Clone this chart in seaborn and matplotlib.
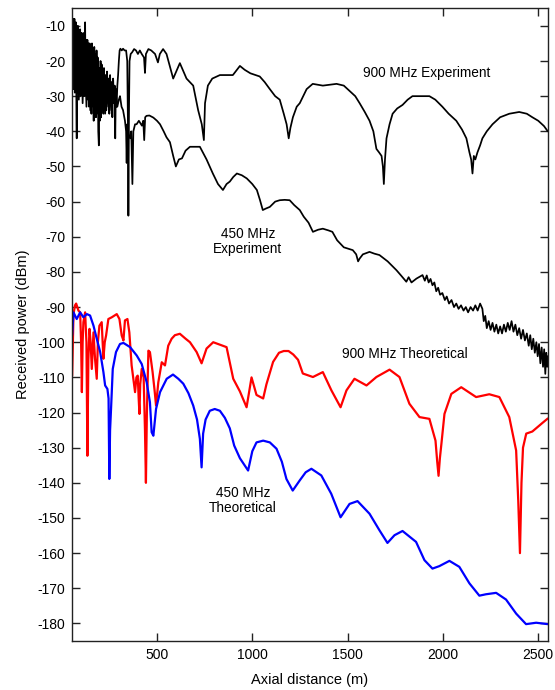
import numpy as np
import pandas as pd
import seaborn as sns
import matplotlib
matplotlib.use("Agg")
import matplotlib.pyplot as plt

# ---- data: (axial distance m, received power dBm) ----
exp900 = [(55, -7), (57, -25), (59, -8), (61, -28), (63, -9), (65, -22), (67, -8), (69, -29),
          (71, -10), (73, -24), (75, -9), (77, -30), (79, -42), (81, -11), (83, -27), (85, -10),
          (87, -29), (89, -11), (91, -22), (93, -12), (95, -28), (97, -11), (99, -26), (101, -13),
          (103, -29), (105, -12), (108, -24), (111, -13), (114, -30), (117, -12), (120, -26),
          (123, -9), (126, -28), (129, -14), (132, -31), (135, -14), (138, -26), (141, -15),
          (144, -33), (147, -15), (150, -28), (153, -16), (156, -35), (159, -15), (162, -30),
          (165, -17), (168, -37), (171, -16), (174, -31), (177, -18), (180, -36), (183, -17),
          (186, -33), (189, -19), (192, -40), (195, -44), (198, -22), (201, -34), (204, -20),
          (207, -36), (210, -21), (213, -32), (216, -23), (219, -35), (222, -22), (226, -31),
          (230, -24), (234, -34), (238, -23), (242, -30), (246, -25), (250, -35), (254, -24),
          (258, -31), (262, -26), (266, -36), (270, -25), (274, -32), (278, -27), (281, -42),
          (284, -28), (288, -33), (292, -27), (296, -24), (300, -20), (304, -17), (308, -16.5),
          (315, -17), (322, -16.5), (330, -17), (338, -17), (344, -20), (348, -40), (350, -64),
          (353, -35), (356, -20), (362, -18), (370, -17.5), (380, -16.6), (390, -17), (400, -18),
          (410, -17), (420, -18), (432, -19), (437, -23.4), (442, -18), (455, -16.6), (470, -17),
          (490, -18), (505, -20.4), (515, -18), (532, -16.6), (550, -18), (565, -21), (585, -25),
          (620, -20.6), (655, -25), (690, -27), (716, -34), (735, -38), (746, -42.5), (752, -32),
          (767, -27), (790, -25), (830, -24), (860, -24), (898, -24), (935, -21.4), (960, -22.5),
          (990, -23.5), (1039, -24.4), (1065, -26), (1092, -28), (1120, -30), (1144, -31),
          (1165, -35), (1180, -38), (1191, -42), (1200, -39), (1213, -36), (1233, -33),
          (1249, -32), (1285, -28), (1317, -26.5), (1370, -27), (1400, -26.8), (1442, -26.5),
          (1480, -27), (1510, -28.5), (1540, -30), (1563, -32), (1590, -34.5), (1615, -37),
          (1635, -40), (1651, -45), (1665, -46), (1678, -47), (1685, -50), (1690, -55),
          (1696, -48), (1704, -42), (1720, -38), (1736, -35), (1760, -33.5), (1788, -32.5),
          (1815, -31), (1840, -30), (1880, -30), (1929, -30), (1960, -31), (1997, -33),
          (2030, -35), (2070, -37), (2100, -39.5), (2123, -42), (2139, -46), (2148, -48),
          (2155, -52), (2162, -47), (2170, -48), (2181, -46), (2195, -44), (2207, -42),
          (2230, -40), (2260, -38), (2300, -36), (2348, -35), (2400, -34.5), (2440, -35),
          (2469, -36), (2500, -37), (2530, -38.5), (2550, -40)]

exp450 = [(55, -15), (60, -26), (65, -13), (70, -27), (75, -16), (80, -29), (85, -18), (90, -31),
          (95, -20), (100, -30), (105, -19), (110, -32), (115, -21), (120, -30), (125, -22),
          (130, -33), (135, -23), (140, -31), (145, -22), (150, -34), (155, -24), (160, -33),
          (165, -25), (170, -36), (175, -26), (180, -34), (185, -27), (190, -35), (195, -26),
          (200, -37), (205, -28), (212, -33), (220, -29), (228, -35), (236, -28), (244, -33),
          (252, -29), (260, -34), (268, -30), (276, -32), (284, -30), (292, -33), (300, -31),
          (306, -30), (314, -33), (322, -34), (332, -37), (338, -40),
          (341, -49), (344, -38), (352, -41), (359, -42), (365, -40), (371, -55), (376, -40),
          (385, -38), (393, -38), (405, -37), (421, -38.4), (428, -37), (433, -42.5), (438, -36),
          (445, -35.6), (460, -35.5), (481, -36.1), (500, -37), (516, -38), (535, -40),
          (550, -41.7), (568, -43.1), (585, -47), (599, -50), (615, -48), (631, -47.7),
          (650, -45.5), (673, -44.4), (700, -44.4), (725, -44.4), (760, -48), (793, -52),
          (820, -55), (846, -56.7), (865, -55), (882, -54.3), (900, -53), (919, -52),
          (945, -52.5), (971, -53.4), (1000, -55), (1024, -56.7), (1040, -59.5), (1055, -62.4),
          (1070, -62), (1092, -61.5), (1120, -60), (1144, -59.6), (1170, -59.5), (1196, -59.6),
          (1220, -61), (1249, -62.4), (1270, -64.3), (1295, -66), (1318, -68.6), (1345, -68),
          (1370, -67.7), (1400, -68.2), (1420, -68.6), (1445, -71), (1480, -73), (1510, -73.5),
          (1527, -73.8), (1545, -75), (1555, -77), (1563, -76.2), (1580, -75), (1615, -74.3),
          (1640, -74.8), (1667, -75.2), (1710, -77), (1756, -79.5), (1780, -81), (1808, -82.8),
          (1820, -81.5), (1835, -83), (1861, -81.9), (1893, -80.9), (1905, -82.5), (1915, -81),
          (1925, -83), (1935, -82), (1945, -83.8), (1955, -83), (1965, -85.5), (1975, -84.5),
          (1985, -86.5), (1997, -86), (2010, -88), (2020, -87), (2032, -89), (2045, -88),
          (2058, -90), (2070, -89), (2082, -90.5), (2095, -89.5), (2108, -91), (2120, -90),
          (2132, -91.5), (2145, -90), (2158, -91), (2170, -89.5), (2182, -91), (2195, -89),
          (2207, -90.5), (2214, -94), (2222, -92.5), (2230, -96), (2240, -94), (2250, -96.5),
          (2260, -94.5), (2270, -97), (2280, -95), (2290, -97.5), (2300, -95.5), (2310, -97.5),
          (2320, -95), (2330, -97), (2340, -94.5), (2350, -96.5), (2360, -94), (2370, -97),
          (2380, -95), (2390, -98), (2400, -96), (2410, -99), (2420, -96.5), (2430, -99.5),
          (2440, -97.5), (2450, -101), (2458, -98), (2466, -102), (2474, -99), (2482, -103),
          (2490, -100), (2497, -104), (2504, -100.5), (2511, -106), (2518, -101.5),
          (2525, -107), (2531, -102), (2537, -109), (2542, -103), (2547, -107), (2550, -104)]

theo900 = [(55, -109.5), (62, -92), (70, -89.5), (76, -89), (82, -90), (88, -91), (97, -91.5),
           (102, -100), (106, -114.2), (110, -100), (114, -94.3), (123, -91.5), (130, -100),
           (135, -132.3), (140, -105), (146, -96.2), (152, -100), (158, -107.6), (167, -97.2),
           (175, -104.7), (184, -110.4), (190, -100), (198, -95.3), (210, -94.3), (219, -104.7),
           (226, -100), (233, -98.1), (245, -93.4), (263, -92.9), (289, -92), (303, -93.4),
           (315, -98.1), (324, -99.5), (332, -93.8), (345, -93.4), (355, -97.2), (367, -106.6),
           (385, -114.2), (392, -110), (399, -109.5), (404, -116), (408, -120.4), (412, -112),
           (420, -107.6), (430, -110), (437, -125), (442, -140), (447, -120), (455, -102.4),
           (463, -102.8), (477, -108.5), (488, -114), (495, -118), (507, -111.4), (525, -105.7),
           (542, -106.6), (559, -101), (577, -99), (594, -98), (620, -97.6), (650, -99),
           (673, -100), (708, -102.8), (734, -106), (760, -101.8), (795, -100), (865, -101.4),
           (900, -110.4), (935, -114), (970, -118.5), (996, -110), (1022, -115), (1057, -116),
           (1074, -112), (1109, -105.6), (1140, -103), (1165, -102.5), (1190, -102.5),
           (1215, -103.5), (1240, -105), (1265, -108.9), (1318, -109.9), (1370, -108.5),
           (1415, -113.7), (1463, -118.5), (1494, -113.7), (1536, -110.4), (1599, -112.3),
           (1651, -109.9), (1720, -107.8), (1772, -109.9), (1824, -117.5), (1877, -121.3),
           (1929, -121.8), (1961, -128), (1970, -134), (1977, -138), (1984, -133), (1992, -128.9),
           (2008, -120.4), (2044, -114.7), (2096, -112.8), (2174, -115.6), (2243, -114.8),
           (2296, -115.6), (2348, -121.3), (2384, -130.8), (2395, -145), (2404, -160),
           (2412, -140), (2420, -130), (2437, -126), (2469, -125.4), (2521, -123), (2550, -121.7)]

theo450 = [(55, -98), (62, -91.5), (79, -93.4), (97, -91.5), (114, -92.9), (132, -92), (149, -92.4),
           (167, -95.3), (184, -99), (202, -102.8), (219, -108.5), (228, -112.3), (240, -113.3),
           (246, -116), (250, -138.9), (254, -125), (259, -119), (268, -107.6), (285, -102.8),
           (306, -100.5), (324, -100.2), (359, -101.4), (394, -103.8), (420, -106.2), (446, -111.4),
           (463, -117.1), (472, -125.6), (481, -126.6), (495, -119), (516, -114.2), (551, -110.4),
           (584, -109.2), (612, -110.4), (638, -111.8), (665, -114.5), (690, -118), (710, -122),
           (725, -127.5), (734, -135.6), (742, -126), (755, -122), (777, -119.5), (803, -119),
           (830, -119.5), (856, -121.5), (882, -124.5), (905, -129.4), (935, -133), (978, -136.5),
           (1000, -131), (1022, -128.5), (1057, -128), (1092, -128.5), (1127, -130.3),
           (1155, -134), (1179, -138.9), (1212, -142.2), (1249, -139.3), (1280, -137), (1310, -136),
           (1362, -137.9), (1414, -143.1), (1463, -149.8), (1510, -146), (1552, -145.2),
           (1615, -148.8), (1667, -153.5), (1709, -157.1), (1746, -154.9), (1788, -153.7),
           (1859, -156.8), (1903, -162), (1945, -164.4), (1981, -163.7), (2034, -162.2),
           (2086, -163.9), (2139, -168.6), (2191, -172.1), (2226, -171.7), (2279, -171.3),
           (2331, -173.2), (2384, -177.2), (2436, -180.2), (2489, -179.8), (2550, -180.2)]

series_names = ["900 MHz Experiment", "450 MHz Experiment", "900 MHz Theoretical", "450 MHz Theoretical"]
series_colors = ["black", "black", "#ff0000", "#0000ff"]

frames = []
for name, pts in zip(series_names, [exp900, exp450, theo900, theo450]):
    xs, ys = zip(*pts)
    frames.append(pd.DataFrame({"distance": xs, "power": ys, "series": name}))
df = pd.concat(frames, ignore_index=True)

sns.set_style("ticks")
plt.rcParams["font.family"] = ["Liberation Sans", "DejaVu Sans"]
plt.rcParams["axes.unicode_minus"] = False
plt.rcParams["text.color"] = "black"
plt.rcParams["axes.labelcolor"] = "black"
plt.rcParams["xtick.labelcolor"] = "black"
plt.rcParams["ytick.labelcolor"] = "black"

fig = plt.figure(figsize=(5.55, 6.9), dpi=100)
ax = fig.add_axes([0.130, 0.071, 0.857, 0.917])

for name, color in zip(series_names, series_colors):
    sub = df[df["series"] == name]
    lw = 1.25 if color == "black" else 1.6
    sns.lineplot(data=sub, x="distance", y="power", color=color, lw=lw,
                 estimator=None, sort=False, ax=ax, legend=False)

ax.set_xlim(55, 2550)
ax.set_ylim(-185, -5)
ax.set_xticks([500, 1000, 1500, 2000, 2500])
ax.set_yticks(np.arange(-180, -9, 10))
ax.tick_params(direction="in", length=6, width=1, top=True, right=True,
               labelsize=10, pad=5, color="#222222", labelcolor="black")
for sp in ax.spines.values():
    sp.set_linewidth(1.0)
    sp.set_color("#222222")
    sp.set_visible(True)

ax.set_xlabel("Axial distance (m)", fontsize=10.5, labelpad=8, color="black")
ax.set_ylabel("Received power (dBm)", fontsize=10.5, labelpad=5, color="black")

ax.text(1913, -23.4, "900 MHz Experiment", ha="center", va="center", fontsize=9.8)
ax.text(976, -71.3, "450 MHz\nExperiment", ha="center", va="center", fontsize=9.8, linespacing=1.1)
ax.text(1798, -103.4, "900 MHz Theoretical", ha="center", va="center", fontsize=9.8)
ax.text(950, -145, "450 MHz\nTheoretical", ha="center", va="center", fontsize=9.8, linespacing=1.1)

fig.savefig("out.png", dpi=100)
